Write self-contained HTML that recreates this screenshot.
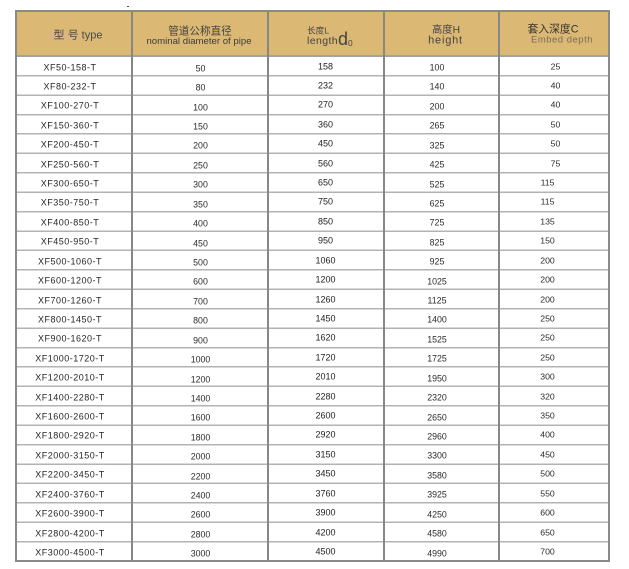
<!DOCTYPE html>
<html>
<head>
<meta charset="utf-8">
<style>
html,body{margin:0;padding:0;}
body{width:629px;height:569px;background:#fff;position:relative;overflow:hidden;font-family:"Liberation Sans","Noto Sans CJK SC",sans-serif;color:#2b2b2b;}
.abs{position:absolute;}
.hdr{position:absolute;left:16px;top:11px;width:593px;height:45px;background:#dbb873;}
.rows{position:absolute;left:16px;top:57.05px;width:593px;height:504.92px;
 background:repeating-linear-gradient(to bottom,rgba(0,0,0,0) 0px,rgba(0,0,0,0) 17.92px,#b3b3b3 17.92px,#b3b3b3 19.42px);}
.hline{position:absolute;left:16px;width:593px;top:55.3px;height:1.6px;background:#a3a3a3;}
.v{position:absolute;top:11px;height:551px;width:2px;background:#878787;}
.frame{position:absolute;left:15px;top:10px;width:595px;height:552px;border:2px solid #8a8a8a;box-sizing:border-box;}
.t{position:absolute;white-space:nowrap;line-height:1;transform:translate(-50%,-50%);}
.r{position:absolute;left:0;width:0;height:0;font-size:9px;}
.r i{position:absolute;font-style:normal;white-space:nowrap;line-height:1;transform:translate(-50%,-50%);}
.c1{left:70px;top:1.5px;letter-spacing:0.5px;color:#262626;}
.c2{left:200.5px;top:2.8px;font-size:8.8px;}
.c3{left:325.5px;top:0.5px;color:#222;}
.c4{left:437px;top:2px;font-size:8.8px;}
.c5{left:555.5px;top:0.5px;font-size:8.7px;}
.c5b{left:547.5px;top:0.5px;font-size:8.7px;}
</style>
</head>
<body>
<div class="abs" style="left:127px;top:5.5px;width:2px;height:1px;background:#555;"></div>

<div class="hdr"></div>
<div class="rows"></div>
<div class="hline"></div>
<div class="v" style="left:131px"></div>
<div class="v" style="left:267px"></div>
<div class="v" style="left:383px"></div>
<div class="v" style="left:498px"></div>
<div class="frame"></div>

<!-- header text -->
<div class="t" style="left:78px;top:36px;font-size:11px;color:#4a4a4a;">型 号 type</div>
<div class="t" style="left:200px;top:31.7px;font-size:10.6px;color:#444;">管道公称直径</div>
<div class="t" style="left:199px;top:42.2px;font-size:9.6px;color:#3d3d3d;">nominal diameter of pipe</div>
<div class="t" style="left:318px;top:31px;font-size:8.6px;color:#444;">长度L</div>
<div class="abs" style="left:307px;top:36.1px;font-size:10.5px;line-height:1;letter-spacing:0.4px;color:#444;white-space:nowrap;">length</div>
<div class="abs" style="left:338px;top:29.8px;font-size:18px;line-height:1;color:#444;">d</div>
<div class="abs" style="left:348px;top:38.9px;font-size:8.4px;line-height:1;color:#444;">0</div>
<div class="t" style="left:446px;top:30.8px;font-size:10.3px;color:#444;">高度H</div>
<div class="t" style="left:445.5px;top:41px;font-size:11px;letter-spacing:0.8px;color:#444;">height</div>
<div class="t" style="left:553px;top:29.5px;font-size:10.8px;color:#333;">套入深度C</div>
<div class="t" style="left:562px;top:40.2px;font-size:9.5px;letter-spacing:0.5px;color:#7a6d58;">Embed depth</div>

<!-- data rows -->
<div class="r" style="top:66.01px"><i class="c1">XF50-158-T</i><i class="c2">50</i><i class="c3">158</i><i class="c4">100</i><i class="c5">25</i></div>
<div class="r" style="top:85.43px"><i class="c1">XF80-232-T</i><i class="c2">80</i><i class="c3">232</i><i class="c4">140</i><i class="c5">40</i></div>
<div class="r" style="top:104.85px"><i class="c1">XF100-270-T</i><i class="c2">100</i><i class="c3">270</i><i class="c4">200</i><i class="c5">40</i></div>
<div class="r" style="top:124.27px"><i class="c1">XF150-360-T</i><i class="c2">150</i><i class="c3">360</i><i class="c4">265</i><i class="c5">50</i></div>
<div class="r" style="top:143.69px"><i class="c1">XF200-450-T</i><i class="c2">200</i><i class="c3">450</i><i class="c4">325</i><i class="c5">50</i></div>
<div class="r" style="top:163.11px"><i class="c1">XF250-560-T</i><i class="c2">250</i><i class="c3">560</i><i class="c4">425</i><i class="c5">75</i></div>
<div class="r" style="top:182.53px"><i class="c1">XF300-650-T</i><i class="c2">300</i><i class="c3">650</i><i class="c4">525</i><i class="c5b">115</i></div>
<div class="r" style="top:201.95px"><i class="c1">XF350-750-T</i><i class="c2">350</i><i class="c3">750</i><i class="c4">625</i><i class="c5b">115</i></div>
<div class="r" style="top:221.37px"><i class="c1">XF400-850-T</i><i class="c2">400</i><i class="c3">850</i><i class="c4">725</i><i class="c5b">135</i></div>
<div class="r" style="top:240.79px"><i class="c1">XF450-950-T</i><i class="c2">450</i><i class="c3">950</i><i class="c4">825</i><i class="c5b">150</i></div>
<div class="r" style="top:260.21px"><i class="c1">XF500-1060-T</i><i class="c2">500</i><i class="c3">1060</i><i class="c4">925</i><i class="c5b">200</i></div>
<div class="r" style="top:279.63px"><i class="c1">XF600-1200-T</i><i class="c2">600</i><i class="c3">1200</i><i class="c4">1025</i><i class="c5b">200</i></div>
<div class="r" style="top:299.05px"><i class="c1">XF700-1260-T</i><i class="c2">700</i><i class="c3">1260</i><i class="c4">1125</i><i class="c5b">200</i></div>
<div class="r" style="top:318.47px"><i class="c1">XF800-1450-T</i><i class="c2">800</i><i class="c3">1450</i><i class="c4">1400</i><i class="c5b">250</i></div>
<div class="r" style="top:337.89px"><i class="c1">XF900-1620-T</i><i class="c2">900</i><i class="c3">1620</i><i class="c4">1525</i><i class="c5b">250</i></div>
<div class="r" style="top:357.31px"><i class="c1">XF1000-1720-T</i><i class="c2">1000</i><i class="c3">1720</i><i class="c4">1725</i><i class="c5b">250</i></div>
<div class="r" style="top:376.73px"><i class="c1">XF1200-2010-T</i><i class="c2">1200</i><i class="c3">2010</i><i class="c4">1950</i><i class="c5b">300</i></div>
<div class="r" style="top:396.15px"><i class="c1">XF1400-2280-T</i><i class="c2">1400</i><i class="c3">2280</i><i class="c4">2320</i><i class="c5b">320</i></div>
<div class="r" style="top:415.57px"><i class="c1">XF1600-2600-T</i><i class="c2">1600</i><i class="c3">2600</i><i class="c4">2650</i><i class="c5b">350</i></div>
<div class="r" style="top:434.99px"><i class="c1">XF1800-2920-T</i><i class="c2">1800</i><i class="c3">2920</i><i class="c4">2960</i><i class="c5b">400</i></div>
<div class="r" style="top:454.41px"><i class="c1">XF2000-3150-T</i><i class="c2">2000</i><i class="c3">3150</i><i class="c4">3300</i><i class="c5b">450</i></div>
<div class="r" style="top:473.83px"><i class="c1">XF2200-3450-T</i><i class="c2">2200</i><i class="c3">3450</i><i class="c4">3580</i><i class="c5b">500</i></div>
<div class="r" style="top:493.25px"><i class="c1">XF2400-3760-T</i><i class="c2">2400</i><i class="c3">3760</i><i class="c4">3925</i><i class="c5b">550</i></div>
<div class="r" style="top:512.67px"><i class="c1">XF2600-3900-T</i><i class="c2">2600</i><i class="c3">3900</i><i class="c4">4250</i><i class="c5b">600</i></div>
<div class="r" style="top:532.09px"><i class="c1">XF2800-4200-T</i><i class="c2">2800</i><i class="c3">4200</i><i class="c4">4580</i><i class="c5b">650</i></div>
<div class="r" style="top:551.51px"><i class="c1">XF3000-4500-T</i><i class="c2">3000</i><i class="c3">4500</i><i class="c4">4990</i><i class="c5b">700</i></div>
</body>
</html>
